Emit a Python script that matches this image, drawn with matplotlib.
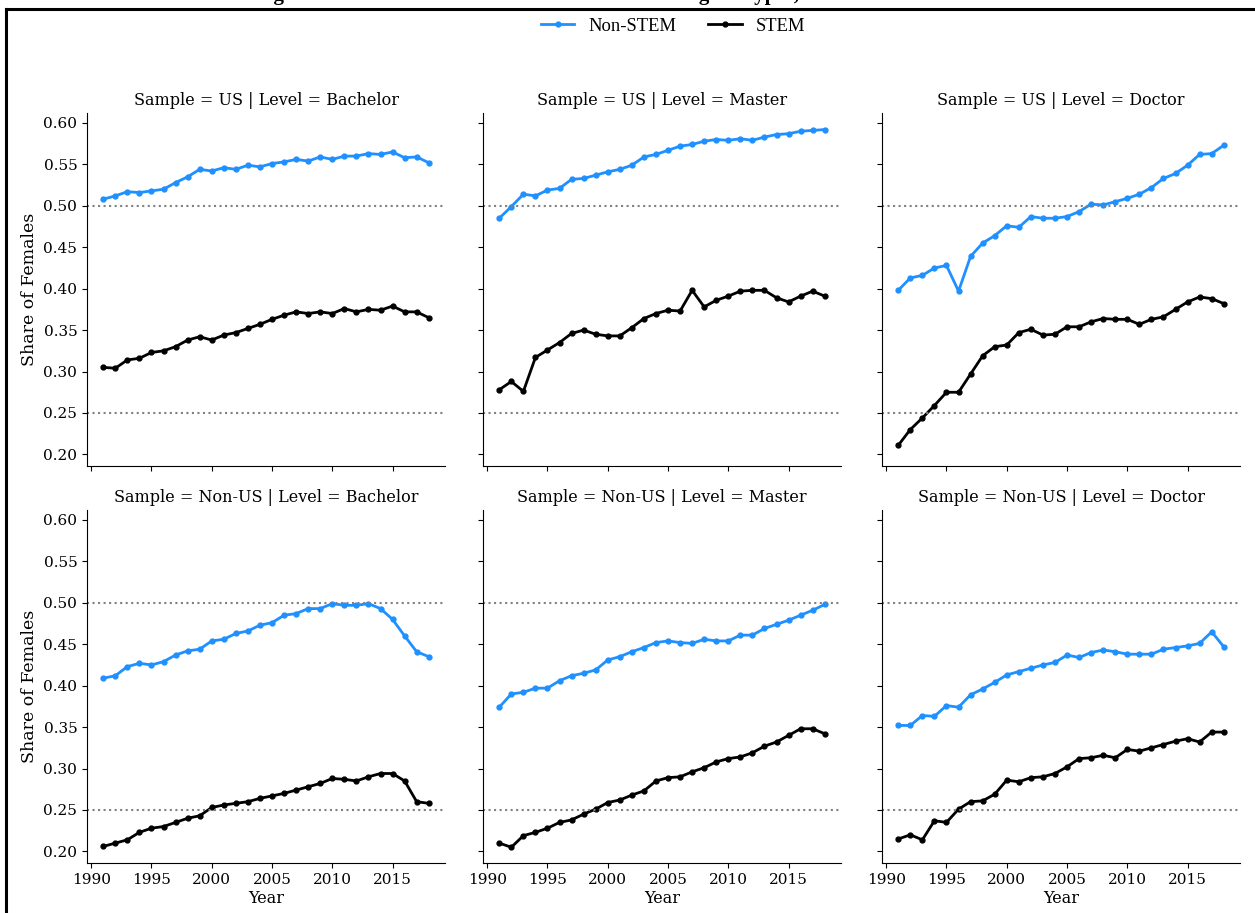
import matplotlib
matplotlib.use('Agg')
import matplotlib.pyplot as plt
from matplotlib.lines import Line2D
import numpy as np

years = list(range(1991, 2019))

# US
us_bach_non = [0.508, 0.512, 0.517, 0.516, 0.518, 0.520, 0.528, 0.535, 0.544, 0.542,
               0.546, 0.544, 0.549, 0.547, 0.551, 0.553, 0.556, 0.554, 0.559, 0.556,
               0.560, 0.560, 0.563, 0.562, 0.565, 0.558, 0.559, 0.552]
us_bach_stem = [0.305, 0.304, 0.314, 0.316, 0.323, 0.325, 0.330, 0.338, 0.342, 0.338,
                0.344, 0.347, 0.352, 0.357, 0.363, 0.368, 0.372, 0.370, 0.372, 0.370,
                0.376, 0.372, 0.375, 0.374, 0.379, 0.372, 0.372, 0.365]
us_mast_non = [0.485, 0.499, 0.514, 0.512, 0.519, 0.521, 0.532, 0.533, 0.537, 0.541,
               0.544, 0.549, 0.559, 0.562, 0.567, 0.572, 0.574, 0.578, 0.580, 0.579,
               0.581, 0.579, 0.583, 0.586, 0.587, 0.590, 0.591, 0.592]
us_mast_stem = [0.278, 0.288, 0.276, 0.317, 0.326, 0.335, 0.346, 0.350, 0.345, 0.343,
                0.343, 0.353, 0.364, 0.370, 0.374, 0.373, 0.398, 0.378, 0.386, 0.391,
                0.397, 0.398, 0.398, 0.389, 0.384, 0.391, 0.397, 0.391]
us_doc_non = [0.398, 0.413, 0.416, 0.425, 0.428, 0.397, 0.439, 0.455, 0.464, 0.476,
              0.474, 0.487, 0.485, 0.485, 0.487, 0.493, 0.502, 0.501, 0.505, 0.509,
              0.514, 0.522, 0.533, 0.539, 0.549, 0.562, 0.563, 0.573]
us_doc_stem = [0.211, 0.230, 0.244, 0.259, 0.275, 0.275, 0.297, 0.319, 0.330, 0.332,
               0.347, 0.351, 0.344, 0.345, 0.354, 0.354, 0.360, 0.364, 0.363, 0.363,
               0.357, 0.363, 0.366, 0.375, 0.384, 0.390, 0.388, 0.382]

# Non-US
nus_bach_non = [0.409, 0.412, 0.423, 0.427, 0.425, 0.429, 0.437, 0.442, 0.444, 0.454,
                0.456, 0.463, 0.466, 0.473, 0.476, 0.485, 0.487, 0.493, 0.493, 0.499,
                0.497, 0.497, 0.499, 0.493, 0.480, 0.460, 0.441, 0.435]
nus_bach_stem = [0.206, 0.210, 0.214, 0.223, 0.228, 0.230, 0.235, 0.240, 0.243, 0.253,
                 0.256, 0.258, 0.260, 0.264, 0.267, 0.270, 0.274, 0.278, 0.282, 0.288,
                 0.287, 0.285, 0.290, 0.294, 0.294, 0.285, 0.260, 0.258]
nus_mast_non = [0.374, 0.390, 0.392, 0.397, 0.397, 0.406, 0.412, 0.415, 0.419, 0.431,
                0.435, 0.441, 0.446, 0.452, 0.454, 0.452, 0.451, 0.456, 0.454, 0.454,
                0.461, 0.461, 0.469, 0.474, 0.479, 0.485, 0.491, 0.498]
nus_mast_stem = [0.210, 0.205, 0.219, 0.223, 0.228, 0.235, 0.238, 0.245, 0.251, 0.259,
                 0.262, 0.268, 0.273, 0.285, 0.289, 0.290, 0.296, 0.301, 0.308, 0.312,
                 0.314, 0.319, 0.327, 0.332, 0.340, 0.348, 0.348, 0.342]
nus_doc_non = [0.352, 0.352, 0.364, 0.363, 0.376, 0.374, 0.389, 0.396, 0.404, 0.413,
               0.417, 0.421, 0.425, 0.428, 0.437, 0.434, 0.440, 0.443, 0.441, 0.438,
               0.438, 0.438, 0.444, 0.446, 0.448, 0.451, 0.465, 0.447]
nus_doc_stem = [0.215, 0.220, 0.214, 0.237, 0.235, 0.251, 0.260, 0.261, 0.269, 0.286,
                0.284, 0.289, 0.290, 0.294, 0.302, 0.312, 0.313, 0.316, 0.313, 0.323,
                0.321, 0.325, 0.329, 0.333, 0.336, 0.332, 0.344, 0.344]

samples = ['US', 'Non-US']
levels = ['Bachelor', 'Master', 'Doctor']
series = {
    ('US', 'Bachelor'): (us_bach_non, us_bach_stem),
    ('US', 'Master'): (us_mast_non, us_mast_stem),
    ('US', 'Doctor'): (us_doc_non, us_doc_stem),
    ('Non-US', 'Bachelor'): (nus_bach_non, nus_bach_stem),
    ('Non-US', 'Master'): (nus_mast_non, nus_mast_stem),
    ('Non-US', 'Doctor'): (nus_doc_non, nus_doc_stem),
}

BLUE = '#1E90FF'
W, H = 1255, 913
plt.rcParams['font.family'] = 'DejaVu Serif'

fig = plt.figure(figsize=(W / 100, H / 100), dpi=100)

# posiciones de los paneles en pixeles
lefts = [87, 483, 882]
tops = [113, 510]
aw, ah = 358, 353

for r, sample in enumerate(samples):
    for c, level in enumerate(levels):
        ax = fig.add_axes([lefts[c] / W, 1 - (tops[r] + ah) / H, aw / W, ah / H])
        non, stem = series[(sample, level)]
        ax.plot(years, non, color=BLUE, lw=2, marker='o', ms=3.5)
        ax.plot(years, stem, color='black', lw=2, marker='o', ms=3.5)
        ax.axhline(0.5, color='grey', ls=':', lw=1.5)
        ax.axhline(0.25, color='grey', ls=':', lw=1.5)
        ax.set_ylim(0.186, 0.612)
        ax.set_xlim(1989.65, 2019.35)
        ax.set_yticks([0.20, 0.25, 0.30, 0.35, 0.40, 0.45, 0.50, 0.55, 0.60])
        ax.set_xticks([1990, 1995, 2000, 2005, 2010, 2015])
        ax.set_title(f'Sample = {sample} | Level = {level}', fontsize=11.5, pad=6)
        ax.spines['top'].set_visible(False)
        ax.spines['right'].set_visible(False)
        ax.tick_params(labelsize=11, length=3.5)
        if c == 0:
            ax.set_ylabel('Share of Females', fontsize=12.5)
            ax.yaxis.set_major_formatter(matplotlib.ticker.FormatStrFormatter('%.2f'))
        else:
            ax.tick_params(labelleft=False)
        if r == 1:
            ax.set_xlabel('Year', fontsize=11.5, labelpad=2)
        else:
            ax.tick_params(labelbottom=False)

# leyenda
handles = [Line2D([], [], color=BLUE, lw=2, marker='o', ms=3.5),
           Line2D([], [], color='black', lw=2, marker='o', ms=3.5)]
fig.legend(handles, ['Non-STEM', 'STEM'], loc='center', ncol=2,
           bbox_to_anchor=(673 / W, 1 - 26 / H), frameon=False,
           prop={'family': 'Liberation Serif', 'size': 13.4},
           handlelength=1.8, handletextpad=0.75, columnspacing=1.7)

# titulo recortado del documento y marco
fig.text(255 / W, 1 + 0.5 / H, 'Figure 5: Female Share in STEM Fields across Degree Types, US and Non-US',
         ha='left', va='baseline', fontsize=15, fontweight='bold', family='Liberation Serif')
fig.add_artist(Line2D([6 / W, 1], [1 - 9 / H, 1 - 9 / H], color='black', lw=2.2))
fig.add_artist(Line2D([6 / W, 6 / W], [0, 1 - 9 / H], color='black', lw=2.2))

fig.savefig('out.png', dpi=100)
